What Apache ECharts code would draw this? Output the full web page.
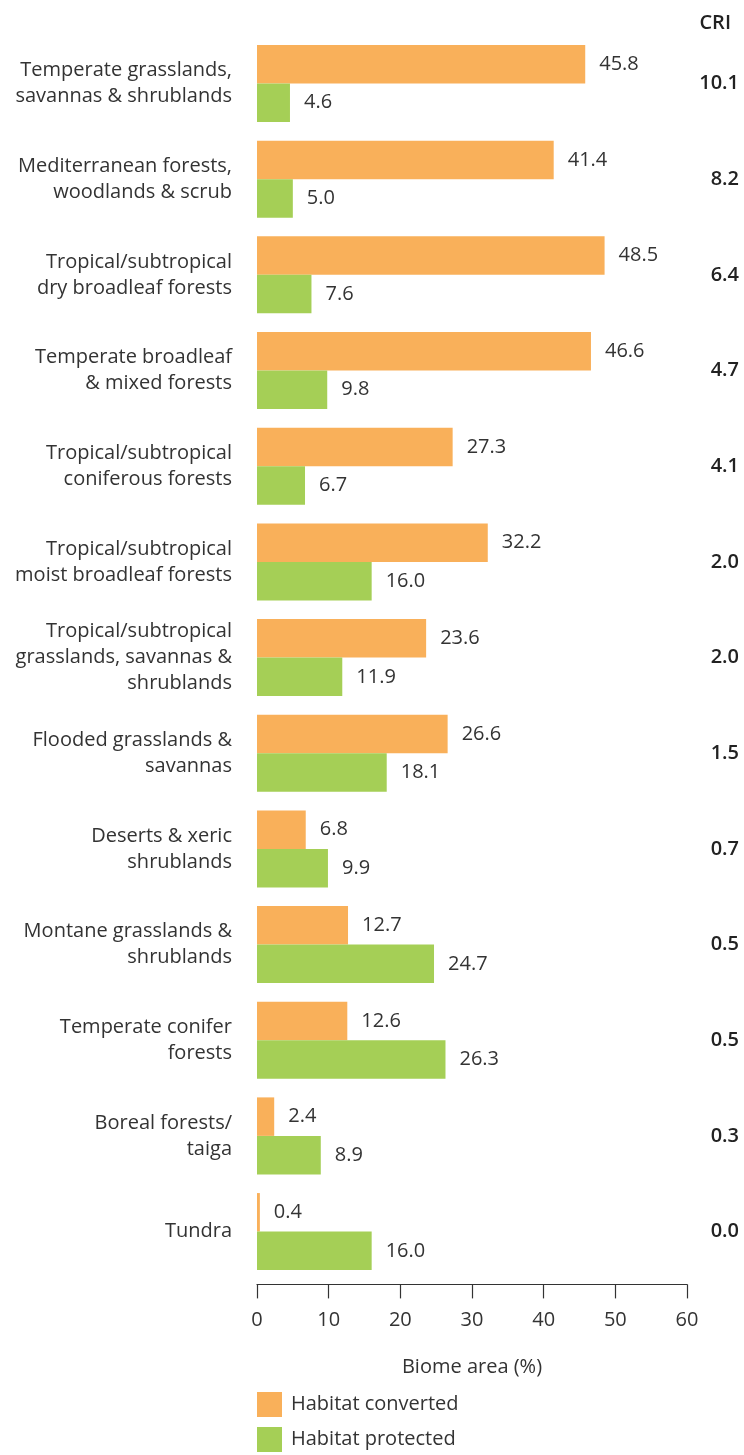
<!DOCTYPE html>
<html>
<head>
<meta charset="utf-8">
<script src="https://cdn.jsdelivr.net/npm/echarts@6/dist/echarts.min.js"></script>
<style>
  html, body { margin: 0; padding: 0; background: #ffffff; }
  #chart { width: 744px; height: 1455px; }
</style>
</head>
<body>
<div id="chart"></div>
<script>
// Biomes, ordered by Conservation Risk Index (CRI)
const biomes = [
  'Temperate grasslands,\nsavannas & shrublands',
  'Mediterranean forests,\nwoodlands & scrub',
  'Tropical/subtropical\ndry broadleaf forests',
  'Temperate broadleaf\n& mixed forests',
  'Tropical/subtropical\nconiferous forests',
  'Tropical/subtropical\nmoist broadleaf forests',
  'Tropical/subtropical\ngrasslands, savannas &\nshrublands',
  'Flooded grasslands &\nsavannas',
  'Deserts & xeric\nshrublands',
  'Montane grasslands &\nshrublands',
  'Temperate conifer\nforests',
  'Boreal forests/\ntaiga',
  'Tundra'
];

// Share of biome area (%)
const habitatConverted = [45.8, 41.4, 48.5, 46.6, 27.3, 32.2, 23.6, 26.6, 6.8, 12.7, 12.6, 2.4, 0.4];
const habitatProtected = [4.6, 5.0, 7.6, 9.8, 6.7, 16.0, 11.9, 18.1, 9.9, 24.7, 26.3, 8.9, 16.0];

// Conservation Risk Index per biome
const cri = ['10.1', '8.2', '6.4', '4.7', '4.1', '2.0', '2.0', '1.5', '0.7', '0.5', '0.5', '0.3', '0.0'];

const FONT = '"Open Sans", "Noto Sans", sans-serif';
const FS = 20;
const TEXT = '#333333';
const ORANGE = '#F9B05A';
const GREEN = '#A5CF56';

const chart = echarts.init(document.getElementById('chart'), null, { renderer: 'canvas' });

const valueLabel = {
  show: true,
  position: 'right',
  distance: 14,
  color: TEXT,
  fontFamily: FONT,
  fontSize: FS,
  formatter: p => p.value.toFixed(1)
};

chart.setOption({
  animation: false,
  backgroundColor: '#ffffff',
  textStyle: { fontFamily: FONT },
  title: {
    text: 'CRI',
    right: 8,
    top: 8,
    textStyle: { fontFamily: FONT, fontSize: FS, fontWeight: 600, color: '#222222' }
  },
  legend: {
    orient: 'vertical',
    left: 257,
    top: 1392,
    padding: 0,
    itemWidth: 25,
    itemHeight: 25,
    itemGap: 10,
    icon: 'rect',
    textStyle: { fontFamily: FONT, fontSize: FS, color: TEXT, padding: [0, 0, 0, 4] },
    data: ['Habitat converted', 'Habitat protected']
  },
  grid: {
    left: 257,
    right: 57,
    top: 35.7,
    bottom: 175.6,
    containLabel: false
  },
  xAxis: {
    type: 'value',
    min: 0,
    max: 60,
    interval: 10,
    offset: 5,
    name: 'Biome area (%)',
    nameLocation: 'middle',
    nameGap: 73,
    nameTextStyle: { fontFamily: FONT, fontSize: FS, color: TEXT },
    axisLine: { show: true, lineStyle: { color: '#333333', width: 1.2 } },
    axisTick: { show: true, length: 14, lineStyle: { color: '#333333', width: 1.2 } },
    axisLabel: { margin: 26, fontFamily: FONT, fontSize: FS, color: TEXT },
    splitLine: { show: false }
  },
  yAxis: [
    {
      type: 'category',
      inverse: true,
      data: biomes,
      axisLine: { show: false },
      axisTick: { show: false },
      axisLabel: {
        margin: 25,
        fontFamily: FONT,
        fontSize: FS,
        lineHeight: 26,
        color: TEXT,
        align: 'right'
      }
    },
    {
      type: 'category',
      inverse: true,
      position: 'right',
      data: cri,
      axisLine: { show: false },
      axisTick: { show: false },
      axisLabel: {
        margin: 52,
        fontFamily: FONT,
        fontSize: FS,
        fontWeight: 600,
        color: '#222222',
        align: 'right'
      }
    }
  ],
  series: [
    {
      name: 'Habitat converted',
      type: 'bar',
      data: habitatConverted,
      barWidth: 38.5,
      barGap: '0%',
      itemStyle: { color: ORANGE },
      label: valueLabel
    },
    {
      name: 'Habitat protected',
      type: 'bar',
      data: habitatProtected,
      barWidth: 38.5,
      barGap: '0%',
      itemStyle: { color: GREEN },
      label: valueLabel
    }
  ]
});
</script>
</body>
</html>
